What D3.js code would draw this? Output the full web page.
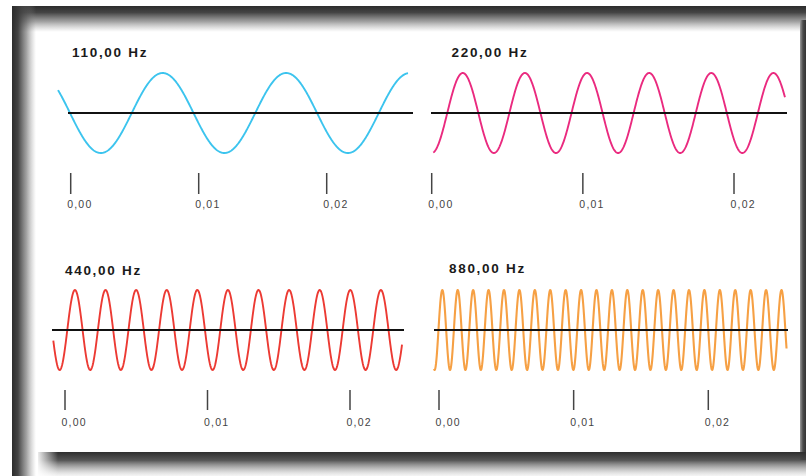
<!DOCTYPE html>
<html>
<head>
<meta charset="utf-8">
<script src="https://cdn.jsdelivr.net/npm/d3@7"></script>
<style>
  html, body { margin: 0; padding: 0; background: #fff; }
  svg { display: block; font-family: "Liberation Sans", Arial, sans-serif; }
</style>
</head>
<body>
<svg id="chart" width="806" height="476"></svg>
<script>
/* ─────────── data ─────────── */
const FREQS   = [110, 220, 440, 880];
const TICKS   = [0, 0.01, 0.02];
// period and first rising zero crossing as drawn (s) – the drawing is not exactly 1/f
const PERIODS = [0.00965, 0.00411, 0.002147, 0.001145];
const PHASES  = [0.00477, 0.00103, 0.000161, -0.00004];
// visible time window of each trace (s)
const WINDOWS = [[-0.00099, 0.02635], [0.0001, 0.02337], [-0.00082, 0.02365], [-0.00037, 0.02581]];
const COLORS  = ['#3cc4ee', '#ea2a7f', '#ec3a33', '#f6a044'];

/* ─────────── layout ─────────── */
const PANELS = [
  { x0: 70.7, x2: 326.7, cy: 113, tx: 72,    ty: 56.5,  ax: [68, 413],  tk: [173, 194], lb: 208 },
  { x0: 431.7, x2: 734,  cy: 113, tx: 451.5, ty: 57,    ax: [431, 787], tk: [173, 194], lb: 208 },
  { x0: 65,   x2: 350,   cy: 330, tx: 65,    ty: 275,   ax: [52, 404],  tk: [390, 410], lb: 426 },
  { x0: 439,  x2: 708.3, cy: 330, tx: 449,   ty: 272.5, ax: [434, 788], tk: [390, 410], lb: 426 }
];
const AMP = 40;

const W = 806, H = 476;
const svg = d3.select('#chart');
const defs = svg.append('defs');

const locale = d3.formatLocale({ decimal: ',', thousands: '.', grouping: [3], currency: ['', ' €'] });
const fmt = locale.format('.2f');

/* ─────────── frame (dark shaded border) ─────────── */
function grad(id, x2, y2, stops) {
  const g = defs.append('linearGradient').attr('id', id)
    .attr('x1', 0).attr('y1', 0).attr('x2', x2).attr('y2', y2);
  stops.forEach(([o, c, op]) => g.append('stop')
    .attr('offset', o).attr('stop-color', c).attr('stop-opacity', op));
}
const fade = [[0, '#2c2c2c', 1], [0.25, '#3a3a3a', 0.95], [0.6, '#555', 0.55], [1, '#888', 0]];
grad('gTop', 0, 1, fade);
grad('gLeft', 1, 0, fade);
grad('gBot', 0, 1, [[0, '#2e2e2e', 1], [0.35, '#444', 0.9], [0.75, '#888', 0.45], [1, '#bbb', 0.15]]);
grad('gRight', 1, 0, [[0, '#9a9a9a', 1], [0.5, '#4a4a4a', 1], [1, '#333', 1]]);
grad('gSoft', 1, 0, [[0, '#fff', 1], [1, '#fff', 0]]);

const frame = svg.append('g');
frame.append('rect').attr('x', 12).attr('y', 6).attr('width', W - 12).attr('height', 26).attr('fill', 'url(#gTop)');
frame.append('rect').attr('x', 12).attr('y', 6).attr('width', 24).attr('height', H - 6).attr('fill', 'url(#gLeft)');
frame.append('rect').attr('x', 800).attr('y', 20).attr('width', 6).attr('height', 440).attr('fill', 'url(#gRight)');
frame.append('rect').attr('x', 38).attr('y', 452).attr('width', W - 38).attr('height', 24).attr('fill', 'url(#gBot)');
frame.append('rect').attr('x', 36).attr('y', 452).attr('width', 22).attr('height', 24).attr('fill', 'url(#gSoft)');

/* ─────────── panels ─────────── */
FREQS.forEach((f, i) => {
  const p = PANELS[i];
  const x = d3.scaleLinear().domain([TICKS[0], TICKS[2]]).range([p.x0, p.x2]);
  const y = d3.scaleLinear().domain([-1, 1]).range([p.cy + AMP, p.cy - AMP]);
  const g = svg.append('g');

  // title
  g.append('text')
    .attr('x', p.tx).attr('y', p.ty)
    .attr('font-size', 13.5).attr('font-weight', 'bold')
    .attr('letter-spacing', 1.7)
    .attr('fill', '#1a1a1a')
    .text(`${fmt(f)} Hz`);

  // wave
  const [t0, t1] = WINDOWS[i];
  const n = 900;
  const pts = d3.range(n + 1).map(k => {
    const t = t0 + (t1 - t0) * k / n;
    return [t, Math.sin(2 * Math.PI * (t - PHASES[i]) / PERIODS[i])];
  });
  g.append('path')
    .datum(pts)
    .attr('fill', 'none')
    .attr('stroke', COLORS[i])
    .attr('stroke-width', i === 3 ? 2.1 : 1.9)
    .attr('stroke-linejoin', 'round')
    .attr('d', d3.line().x(d => x(d[0])).y(d => y(d[1])));

  // zero line
  g.append('line')
    .attr('x1', p.ax[0]).attr('x2', p.ax[1])
    .attr('y1', y(0)).attr('y2', y(0))
    .attr('stroke', '#111').attr('stroke-width', 2.2);

  // time ticks
  const tk = g.selectAll('g.tick').data(TICKS).join('g')
    .attr('class', 'tick')
    .attr('transform', d => `translate(${x(d)},0)`);
  tk.append('line')
    .attr('y1', p.tk[0]).attr('y2', p.tk[1])
    .attr('stroke', '#444').attr('stroke-width', 1.5);
  tk.append('text')
    .attr('x', -3.5).attr('y', p.lb)
    .attr('font-size', 10.5)
    .attr('letter-spacing', 1.2)
    .attr('fill', '#444')
    .text(d => fmt(d));
});
</script>
</body>
</html>
